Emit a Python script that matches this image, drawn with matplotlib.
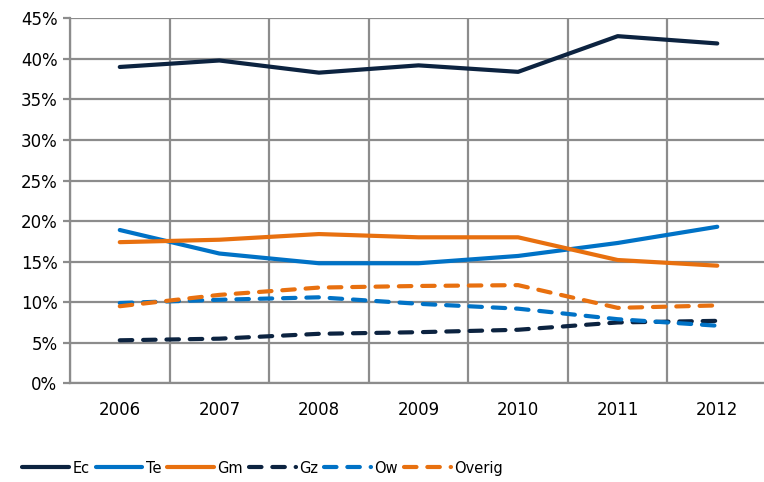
import numpy as np
import matplotlib.pyplot as plt
from matplotlib.ticker import FuncFormatter, MultipleLocator

# share per year (%)
years = ["2006", "2007", "2008", "2009", "2010", "2011", "2012"]
ec = [39.0, 39.8, 38.3, 39.2, 38.4, 42.8, 41.9]
te = [18.9, 16.0, 14.8, 14.8, 15.7, 17.3, 19.3]
gm = [17.4, 17.7, 18.4, 18.0, 18.0, 15.2, 14.5]
gz = [5.3, 5.5, 6.1, 6.3, 6.6, 7.5, 7.7]
ow = [9.9, 10.3, 10.6, 9.8, 9.2, 7.9, 7.1]
overig = [9.5, 10.9, 11.8, 12.0, 12.1, 9.3, 9.6]

NAVY = "#0c2340"
BLUE = "#0072c6"
ORANGE = "#e8700f"
GRID = "#8c8c8c"

fig = plt.figure(figsize=(7.64, 4.82), dpi=100)
ax = fig.add_axes([0.0916, 0.2048, 0.9124, 0.7572])

x = np.arange(len(years))
lw = 3.0
dash = (3.0, 2.6)
series = [
    ("Ec", ec, NAVY, None),
    ("Te", te, BLUE, None),
    ("Gm", gm, ORANGE, None),
    ("Gz", gz, NAVY, dash),
    ("Ow", ow, BLUE, dash),
    ("Overig", overig, ORANGE, dash),
]
for name, vals, col, dsh in series:
    kw = dict(color=col, lw=lw, label=name, solid_capstyle="round",
              dash_capstyle="round", zorder=3)
    if dsh is not None:
        kw["dashes"] = dsh
    ax.plot(x, vals, **kw)

ax.set_xlim(-0.5, 6.5)
ax.set_ylim(0, 45)
ax.yaxis.set_major_locator(MultipleLocator(5))
ax.yaxis.set_major_formatter(FuncFormatter(lambda v, p: f"{v:.0f}%"))
ax.set_xticks(x)
ax.set_xticklabels(years)
ax.set_xticks(np.arange(-0.5, 7, 1), minor=True)

ax.grid(axis="y", which="major", color=GRID, lw=1.6, zorder=1)
ax.grid(axis="x", which="minor", color=GRID, lw=1.6, zorder=1)
ax.tick_params(axis="y", length=5, width=1.6, color=GRID, labelsize=12, pad=4)
ax.tick_params(axis="x", which="major", length=0, labelsize=12, pad=13)
ax.tick_params(axis="x", which="minor", length=0)
for s in ["top", "right"]:
    ax.spines[s].set_visible(False)
for s in ["left", "bottom"]:
    ax.spines[s].set_color(GRID)
    ax.spines[s].set_linewidth(1.6)

fig.legend(loc="center left", bbox_to_anchor=(0.012, 0.029), ncol=6,
           frameon=False, fontsize=10.5, handlelength=3.2,
           handletextpad=0.25, columnspacing=0.4)

fig.savefig("out.png", dpi=100)
